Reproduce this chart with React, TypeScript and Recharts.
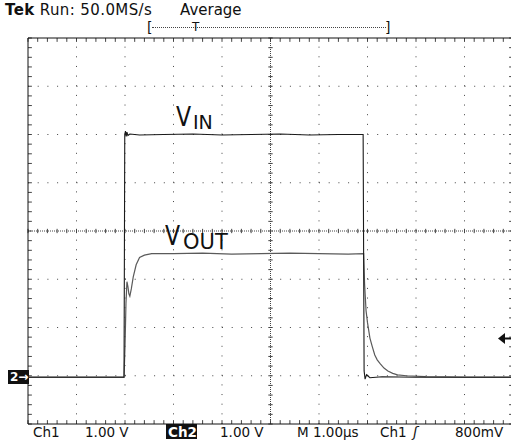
import { ComposedChart, Line, XAxis, YAxis, ReferenceLine } from "recharts";

// time in µs (1 µs/div), volts (1 V/div), ground of both channels at 0
const vinTime = [0, 1.98, 1.995, 2.01, 2.025, 2.04, 2.06, 2.1, 2.3, 2.8, 3.4, 4.0, 4.6, 5.2, 5.8, 6.4, 6.91, 6.93, 6.95, 6.98, 7.05, 7.3, 8.0, 9.0, 10];
const vinVolts = [-0.03, -0.03, 5.0, 5.07, 4.96, 5.05, 4.98, 5.01, 4.99, 5.0, 5.01, 4.99, 5.0, 5.01, 4.99, 5.0, 5.0, 0.1, -0.07, 0.02, -0.04, -0.02, -0.03, -0.03, -0.03];

const voutTime = [0, 1.98, 2.0, 2.02, 2.04, 2.06, 2.08, 2.1, 2.13, 2.17, 2.23, 2.3, 2.4, 2.55, 3.0, 3.6, 4.2, 4.8, 5.4, 6.0, 6.6, 6.92, 6.94, 6.97, 7.0, 7.05, 7.1, 7.15, 7.2, 7.26, 7.34, 7.42, 7.52, 7.62, 7.8, 8.2, 9.0, 10];
const voutVolts = [-0.03, -0.03, 0.6, 1.5, 1.95, 1.85, 1.7, 1.65, 1.8, 2.05, 2.3, 2.45, 2.5, 2.53, 2.53, 2.54, 2.52, 2.53, 2.54, 2.53, 2.52, 2.53, 1.9, 1.35, 1.1, 0.78, 0.6, 0.43, 0.33, 0.25, 0.16, 0.1, 0.05, 0.02, 0.0, -0.02, -0.03, -0.03];

// graticule: 10 x 8 divisions
const xMajor = [1, 2, 3, 4, 6, 7, 8, 9];
const yMajor = [0, 1, 2, 4, 5, 6];
const xCenter = 5;
const yCenter = 3;
const xMinor = Array.from({ length: 51 }, (_, i) => +(i * 0.2).toFixed(1));
const yMinor = Array.from({ length: 41 }, (_, i) => +(-1 + i * 0.2).toFixed(1));

const vin = vinTime.map((t, i) => ({ t, v: vinVolts[i] }));
const vout = voutTime.map((t, i) => ({ t, v: voutVolts[i] }));

const font = "'DejaVu Sans', sans-serif";
const ax = { xAxisId: "b", yAxisId: "l", ifOverflow: "visible" as const };
const tx = 0.08; // border tick length, x units
const ty = 0.08; // border tick length, y units
const grid = "#444";

function Txt({ x, y, size = 13, children, style }: any) {
  return (
    <div
      style={{
        position: "absolute",
        left: x,
        top: y,
        fontFamily: font,
        fontSize: size,
        lineHeight: 1,
        whiteSpace: "nowrap",
        color: "#111",
        ...style,
      }}
    >
      {children}
    </div>
  );
}

export default function App() {
  return (
    <div
      style={{
        position: "absolute",
        left: 0,
        top: 0,
        width: 511,
        height: 441,
        overflow: "hidden",
        background: "#fff",
      }}
    >
      <ComposedChart
        width={520}
        height={441}
        margin={{ top: 38, left: 28, right: 7, bottom: 17 }}
      >
        <XAxis xAxisId="b" dataKey="t" type="number" domain={[0, 10]} ticks={xMinor} orientation="bottom" mirror tick={false} tickLine={false} stroke="#111" allowDataOverflow />
        <XAxis xAxisId="t" type="number" domain={[0, 10]} ticks={xMinor} orientation="top" mirror tick={false} tickLine={false} stroke="#111" />
        <YAxis yAxisId="l" type="number" domain={[-1, 7]} ticks={yMinor} orientation="left" mirror tick={false} tickLine={false} stroke="#111" allowDataOverflow />
        <YAxis yAxisId="r" type="number" domain={[-1, 7]} ticks={yMinor} orientation="right" mirror tick={false} tickLine={false} stroke="#111" />

        {xMajor.map((x) => (
          <ReferenceLine key={"gx" + x} {...ax} x={x} stroke={grid} strokeDasharray="1 8.65" />
        ))}
        {yMajor.map((y) => (
          <ReferenceLine key={"gy" + y} {...ax} y={y} stroke={grid} strokeDasharray="1 8.7" />
        ))}
        <ReferenceLine {...ax} x={xCenter} stroke={grid} strokeDasharray="1 1" />
        <ReferenceLine {...ax} y={yCenter} stroke={grid} strokeDasharray="1 1" />
        {yMinor.map((y) => (
          <ReferenceLine key={"cy" + y} {...ax} stroke={grid} segment={[{ x: xCenter - 0.045, y }, { x: xCenter + 0.045, y }]} />
        ))}
        {xMinor.map((x) => (
          <ReferenceLine key={"cx" + x} {...ax} stroke={grid} segment={[{ x, y: yCenter - 0.045 }, { x, y: yCenter + 0.045 }]} />
        ))}
        {/* border ticks */}
        {xMinor.map((x) => (
          <ReferenceLine key={"bt" + x} {...ax} stroke={grid} segment={[{ x, y: 7 }, { x, y: 7 - ty }]} />
        ))}
        {xMinor.map((x) => (
          <ReferenceLine key={"bb" + x} {...ax} stroke={grid} segment={[{ x, y: -1 }, { x, y: -1 + ty }]} />
        ))}
        {yMinor.map((y) => (
          <ReferenceLine key={"bl" + y} {...ax} stroke={grid} segment={[{ x: 0, y }, { x: tx, y }]} />
        ))}
        {yMinor.map((y) => (
          <ReferenceLine key={"br" + y} {...ax} stroke={grid} segment={[{ x: 10, y }, { x: 10 - tx, y }]} />
        ))}

        <Line xAxisId="b" yAxisId="l" data={vout} dataKey="v" type="linear" stroke="#5a5a5a" strokeWidth={1.2} dot={false} isAnimationActive={false} />
        <Line xAxisId="b" yAxisId="l" data={vin} dataKey="v" type="linear" stroke="#1a1a1a" strokeWidth={1.1} dot={false} isAnimationActive={false} />
      </ComposedChart>

      <Txt x={5} y={3} size={15} style={{ letterSpacing: 0.4 }}>
        <b>Tek</b> Run: 50.0MS/s
      </Txt>
      <Txt x={180} y={3} size={15}>Average</Txt>
      {/* record position bracket */}
      <Txt x={147} y={20} size={14}>[</Txt>
      <Txt x={385} y={20} size={14}>]</Txt>
      <div style={{ position: "absolute", left: 152, top: 27, width: 234, borderTop: "1px dotted #444" }} />
      <Txt x={192} y={21} size={12}>T</Txt>

      {/* trace labels */}
      <Txt x={176} y={104} size={26} style={{ transform: "scaleX(0.85)", transformOrigin: "left" }}>V</Txt>
      <Txt x={193} y={113} size={19}>IN</Txt>
      <Txt x={165} y={223} size={26} style={{ transform: "scaleX(0.85)", transformOrigin: "left" }}>V</Txt>
      <Txt x={183} y={232} size={21}>OUT</Txt>

      {/* ground marker & trigger level */}
      <div style={{ position: "absolute", left: 8, top: 370, width: 21, height: 14, background: "#111", color: "#fff", fontFamily: font, fontSize: 12, fontWeight: "bold", lineHeight: "14px", paddingLeft: 2, boxSizing: "border-box" }}>2→</div>
      <svg style={{ position: "absolute", left: 498, top: 333 }} width={13} height={11}>
        <polygon points="0,5.5 7,0 7,11" fill="#111" />
        <line x1={7} y1={5.5} x2={13} y2={5.5} stroke="#111" strokeWidth={2} />
      </svg>

      {/* bottom status line */}
      <Txt x={33} y={426} size={13.5}>Ch1</Txt>
      <Txt x={85} y={426} size={13.5}>1.00 V</Txt>
      <div style={{ position: "absolute", left: 166, top: 424, width: 31, height: 15, background: "#111" }} />
      <Txt x={168} y={426} size={13.5} style={{ color: "#fff", fontWeight: "bold" }}>Ch2</Txt>
      <Txt x={220} y={426} size={13.5}>1.00 V</Txt>
      <Txt x={297} y={426} size={13.5}>M 1.00µs</Txt>
      <Txt x={380} y={426} size={13.5}>Ch1</Txt>
      <Txt x={413} y={425} size={14} style={{ fontStyle: "italic" }}>ʃ</Txt>
      <Txt x={455} y={426} size={13.5}>800mV</Txt>
    </div>
  );
}
